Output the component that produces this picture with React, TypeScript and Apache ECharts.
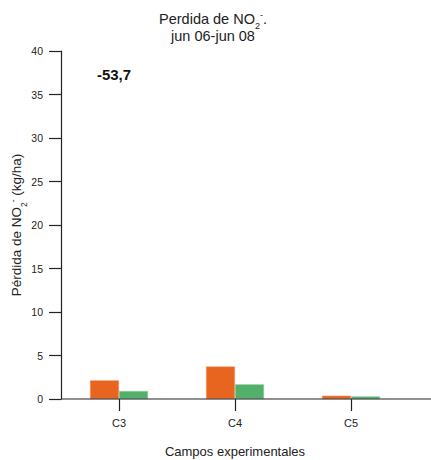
import React, { useEffect, useRef } from "react";
import * as echarts from "echarts";

const categories = ["C3", "C4", "C5"];
const seriesA = [2.15, 3.75, 0.38];
const seriesB = [0.92, 1.69, 0.3];
const yTicks = { min: 0, max: 40, interval: 5 };
const annotation = "-53,7";

const FONT = "'Liberation Sans', Arial, sans-serif";

export default function App() {
  const ref = useRef<HTMLDivElement>(null);
  useEffect(() => {
    document.body.style.margin = "0";
    if (!ref.current) return;
    const chart = echarts.init(ref.current, undefined, { renderer: "svg" });
    chart.setOption({
      animation: false,
      backgroundColor: "#ffffff",
      textStyle: { fontFamily: FONT },
      title: {
        text: "Perdida de NO{sub|2}{sup|-}.\njun 06-jun 08",
        left: 208,
        top: 5,
        textAlign: "center",
        textStyle: {
          fontFamily: FONT,
          fontSize: 14.5,
          fontWeight: "normal",
          color: "#222",
          lineHeight: 17,
          rich: {
            sub: { fontSize: 9, verticalAlign: "bottom", lineHeight: 17, fontFamily: FONT, color: "#222", padding: [0, 0, -3, 0] },
            sup: { fontSize: 9, verticalAlign: "top", lineHeight: 17, fontFamily: FONT, color: "#222" },
          },
        },
      },
      grid: { left: 61, right: 22, top: 51, bottom: 61, containLabel: false, outerBoundsMode: "none" },
      xAxis: {
        type: "category",
        data: categories,
        axisLine: { show: false },
        axisTick: { show: true, alignWithLabel: true, length: 12, lineStyle: { color: "#222", width: 1.2 } },
        axisLabel: { color: "#222", fontSize: 11, margin: 18, fontFamily: FONT },
        name: "Campos experimentales",
        nameLocation: "middle",
        nameGap: 46,
        nameMoveOverlap: false,
        nameTextStyle: { color: "#222", fontSize: 13, fontFamily: FONT },
      },
      yAxis: {
        type: "value",
        min: yTicks.min,
        max: yTicks.max,
        interval: yTicks.interval,
        splitLine: { show: false },
        axisLine: { show: true, lineStyle: { color: "#222", width: 1.2 } },
        axisTick: { show: true, length: 12, lineStyle: { color: "#222", width: 1.2 } },
        axisLabel: { color: "#222", fontSize: 10.5, margin: 18, fontFamily: FONT },
        name: "Pérdida de NO{sub|2}{sup|-} (kg/ha)",
        nameLocation: "middle",
        nameGap: 36,
        nameMoveOverlap: false,
        nameTextStyle: {
          color: "#222",
          fontSize: 13.5,
          fontFamily: FONT,
          lineHeight: 17,
          rich: {
            sub: { fontSize: 8.5, verticalAlign: "bottom", lineHeight: 17, fontFamily: FONT, color: "#222", padding: [0, 0, -3, 0] },
            sup: { fontSize: 8.5, verticalAlign: "top", lineHeight: 17, fontFamily: FONT, color: "#222" },
          },
        },
      },
      graphic: [
        {
          type: "line",
          z: 10,
          shape: { x1: 61, y1: 399, x2: 431, y2: 399 },
          style: { stroke: "#222", lineWidth: 1.2 },
        },
        {
          type: "text",
          x: 114,
          y: 74,
          style: {
            text: annotation,
            font: `bold 15px ${FONT}`,
            fill: "#111",
            textAlign: "center",
            textVerticalAlign: "middle",
          },
        },
      ],
      series: [
        {
          type: "bar",
          data: seriesA,
          barWidth: 29,
          barGap: "0%",
          itemStyle: { color: "#E8651F", borderColor: "#F2A27A", borderWidth: 0.5 },
        },
        {
          type: "bar",
          data: seriesB,
          barWidth: 29,
          barGap: "0%",
          itemStyle: { color: "#52B06B", borderColor: "#9BD3A9", borderWidth: 0.5 },
        },
      ],
    });
    return () => chart.dispose();
  }, []);
  return <div ref={ref} style={{ width: 431, height: 460 }} />;
}
